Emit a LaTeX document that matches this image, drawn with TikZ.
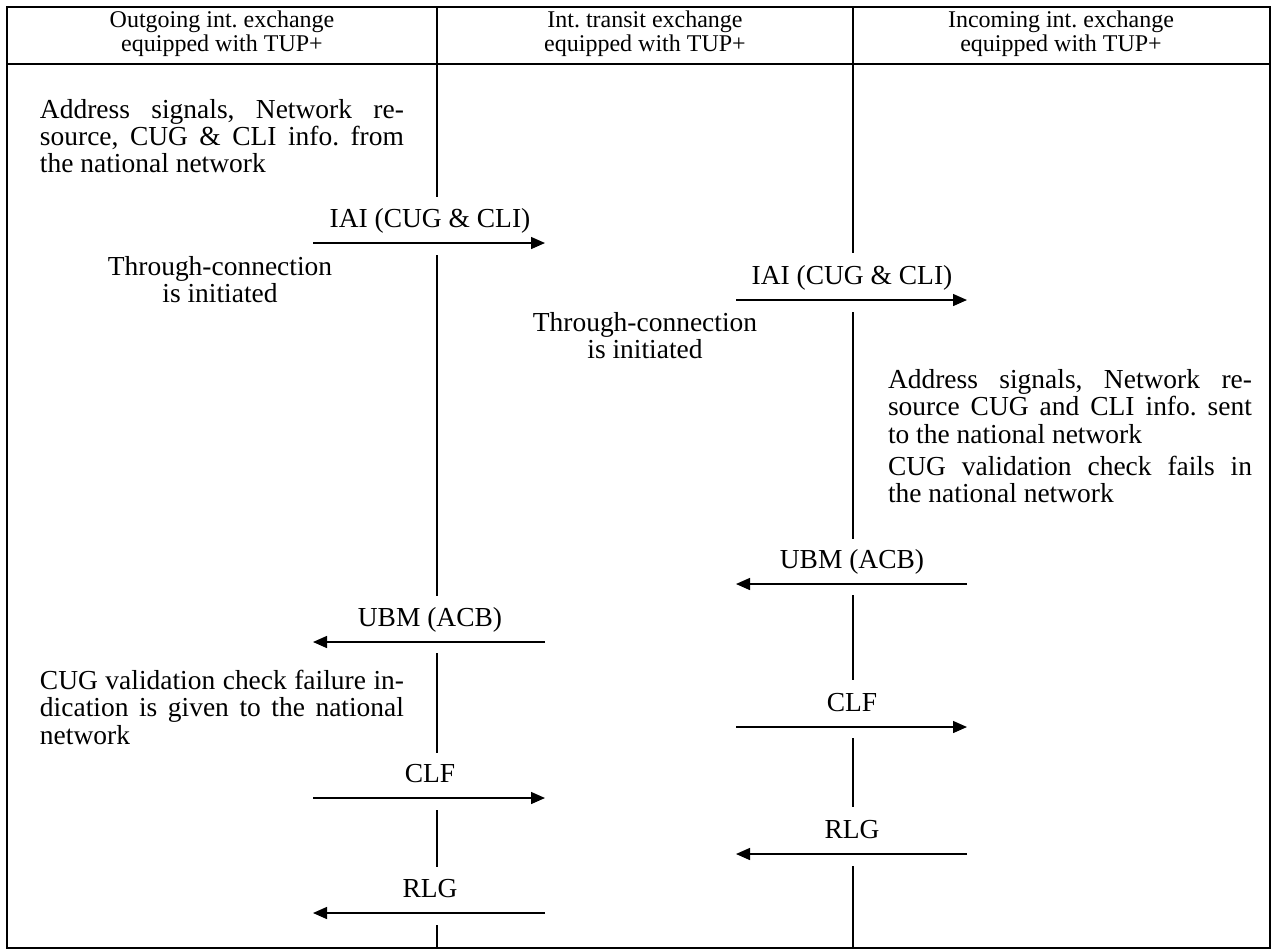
\documentclass[tikz,border=0pt]{standalone}
\usepackage{fontspec}
\setmainfont{Liberation Serif}
\usetikzlibrary{arrows.meta}
\newlength\blockw
\setlength\blockw{273pt}
\frenchspacing
\begin{document}
\begin{tikzpicture}[x=0.75pt,y=-0.75pt,
  body/.style={font=\fontsize{20.6}{20.6}\selectfont, inner sep=0pt, outer sep=0pt},
  head/.style={font=\fontsize{18}{18}\selectfont, align=center, inner sep=0pt, anchor=north},
  blk/.style={body, align=left, anchor=north west},
  cblk/.style={body, align=center, anchor=north},
  lbl/.style={body, anchor=base},
  msg/.style={line width=1.05pt, -{Triangle[length=10.5pt,width=9pt]}},
  life/.style={line width=1pt},
  frame/.style={line width=1.3pt},
]
\useasboundingbox (0,0) rectangle (1275,951);
% frame and header
\draw[frame] (7,7) rectangle (1270,948);
\coordinate (hl) at (7,64);
\coordinate (hr) at (1270,64);
\draw[frame] (hl) -- (hr);
\node[head] (h1) at (222,11) {Outgoing int. exchange\\equipped with TUP+};
\node[head] (h2) at (645,11) {Int. transit exchange\\equipped with TUP+};
\node[head] (h3) at (1061,11) {Incoming int. exchange\\equipped with TUP+};

% lifeline 1 (x = 437)
\coordinate (a0) at (437,7);   \coordinate (a1) at (437,197);
\coordinate (a2) at (437,255); \coordinate (a3) at (437,596);
\coordinate (a4) at (437,653); \coordinate (a5) at (437,753);
\coordinate (a6) at (437,810); \coordinate (a7) at (437,867);
\coordinate (a8) at (437,925); \coordinate (a9) at (437,948);
\draw[frame] (a0) -- (hl -| a0);
\draw[life] (hl -| a0) -- (a1);
\draw[life] (a2) -- (a3);
\draw[life] (a4) -- (a5);
\draw[life] (a6) -- (a7);
\draw[life] (a8) -- (a9);

% lifeline 2 (x = 853)
\coordinate (b0) at (853,7);   \coordinate (b1) at (853,253);
\coordinate (b2) at (853,312); \coordinate (b3) at (853,539);
\coordinate (b4) at (853,595); \coordinate (b5) at (853,680);
\coordinate (b6) at (853,738); \coordinate (b7) at (853,807);
\coordinate (b8) at (853,866); \coordinate (b9) at (853,948);
\draw[frame] (b0) -- (hl -| b0);
\draw[life] (hl -| b0) -- (b1);
\draw[life] (b2) -- (b3);
\draw[life] (b4) -- (b5);
\draw[life] (b6) -- (b7);
\draw[life] (b8) -- (b9);

% messages, first section
\coordinate (m1l) at (313,243); \coordinate (m1r) at (545,243);
\draw[msg] (m1l) -- (m1r);
\node[lbl] (t1) at (430,227) {IAI (CUG \& CLI)};
\coordinate (m2l) at (313,642); \coordinate (m2r) at (545,642);
\draw[msg] (m2r) -- (m2l);
\node[lbl] (t2) at (430,626) {UBM (ACB)};
\coordinate (m3l) at (313,798); \coordinate (m3r) at (545,798);
\draw[msg] (m3l) -- (m3r);
\node[lbl] (t3) at (430,782) {CLF};
\coordinate (m4l) at (313,913); \coordinate (m4r) at (545,913);
\draw[msg] (m4r) -- (m4l);
\node[lbl] (t4) at (430,897) {RLG};

% messages, second section
\coordinate (n1l) at (736,300); \coordinate (n1r) at (967,300);
\draw[msg] (n1l) -- (n1r);
\node[lbl] (u1) at (852,284) {IAI (CUG \& CLI)};
\coordinate (n2l) at (736,584); \coordinate (n2r) at (967,584);
\draw[msg] (n2r) -- (n2l);
\node[lbl] (u2) at (852,568) {UBM (ACB)};
\coordinate (n3l) at (736,727); \coordinate (n3r) at (967,727);
\draw[msg] (n3l) -- (n3r);
\node[lbl] (u3) at (852,711) {CLF};
\coordinate (n4l) at (736,854); \coordinate (n4r) at (967,854);
\draw[msg] (n4r) -- (n4l);
\node[lbl] (u4) at (852,838) {RLG};

% descriptive texts
\node[blk] (d1) at (40,99) {\makebox[\blockw][s]{Address signals, Network re-}\\
  \makebox[\blockw][s]{source, CUG \& CLI info. from}\\
  the national network};
\node[cblk] (d2) at (220,256) {Through-connection\\is initiated};
\node[cblk] (d3) at (645,312) {Through-connection\\is initiated};
\node[blk] (d4) at (888,369) {\makebox[\blockw][s]{Address signals, Network re-}\\
  \makebox[\blockw][s]{source CUG and CLI info. sent}\\
  to the national network};
\node[blk] (d5) at (888,456) {\makebox[\blockw][s]{CUG validation check fails in}\\
  the national network};
\node[blk] (d6) at (40,670) {\makebox[\blockw][s]{CUG validation check failure in-}\\
  \makebox[\blockw][s]{dication is given to the national}\\
  network};
\end{tikzpicture}
\end{document}
